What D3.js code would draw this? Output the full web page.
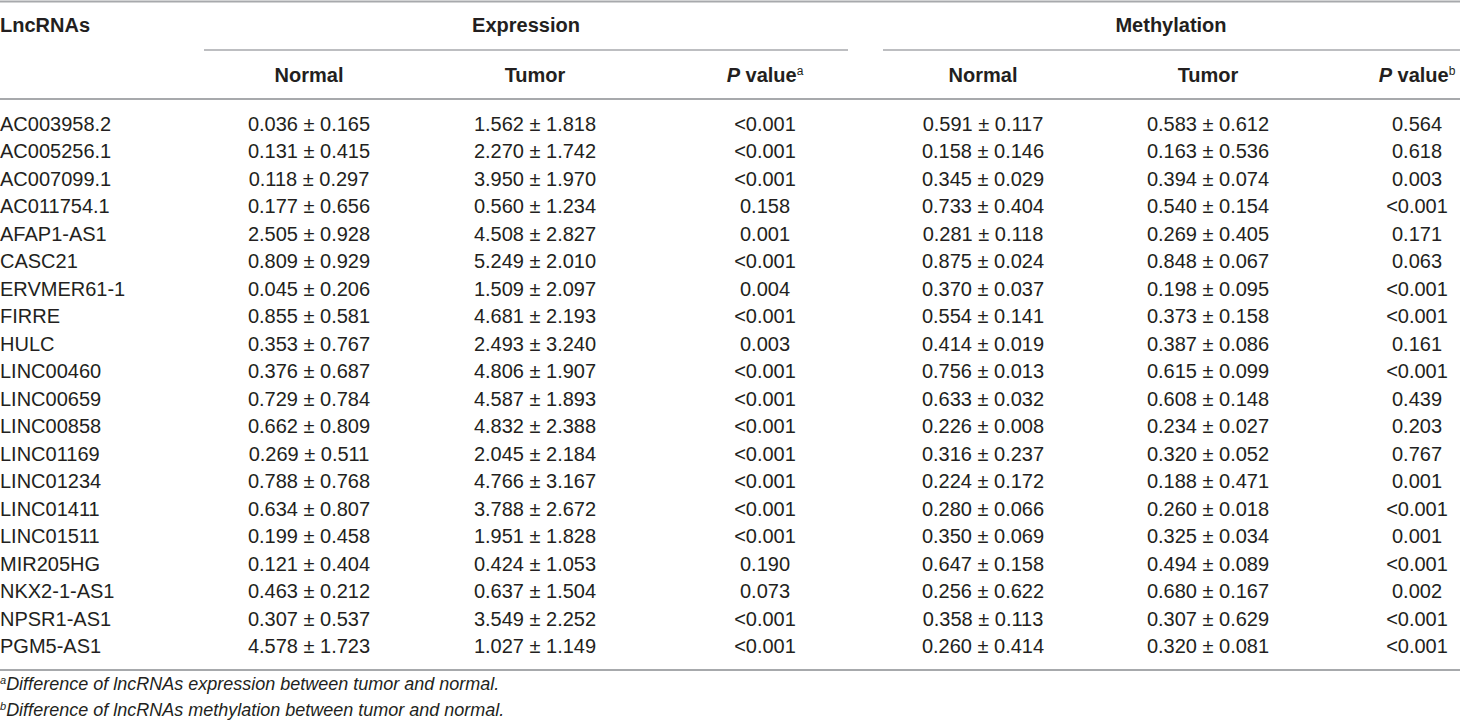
<!DOCTYPE html>
<html>
<head>
<meta charset="utf-8">
<script src="https://d3js.org/d3.v7.min.js"></script>
<style>
  body { margin: 0; background: #fff; }
  text { font-family: "Liberation Sans", Arial, sans-serif; fill: #231f20; }
</style>
</head>
<body>
<div id="chart"></div>
<script>
// table contents
var lncRNAs = ["AC003958.2","AC005256.1","AC007099.1","AC011754.1","AFAP1-AS1","CASC21","ERVMER61-1","FIRRE","HULC","LINC00460","LINC00659","LINC00858","LINC01169","LINC01234","LINC01411","LINC01511","MIR205HG","NKX2-1-AS1","NPSR1-AS1","PGM5-AS1"];
var exprNormal = ["0.036 ± 0.165","0.131 ± 0.415","0.118 ± 0.297","0.177 ± 0.656","2.505 ± 0.928","0.809 ± 0.929","0.045 ± 0.206","0.855 ± 0.581","0.353 ± 0.767","0.376 ± 0.687","0.729 ± 0.784","0.662 ± 0.809","0.269 ± 0.511","0.788 ± 0.768","0.634 ± 0.807","0.199 ± 0.458","0.121 ± 0.404","0.463 ± 0.212","0.307 ± 0.537","4.578 ± 1.723"];
var exprTumor = ["1.562 ± 1.818","2.270 ± 1.742","3.950 ± 1.970","0.560 ± 1.234","4.508 ± 2.827","5.249 ± 2.010","1.509 ± 2.097","4.681 ± 2.193","2.493 ± 3.240","4.806 ± 1.907","4.587 ± 1.893","4.832 ± 2.388","2.045 ± 2.184","4.766 ± 3.167","3.788 ± 2.672","1.951 ± 1.828","0.424 ± 1.053","0.637 ± 1.504","3.549 ± 2.252","1.027 ± 1.149"];
var exprP = ["<0.001","<0.001","<0.001","0.158","0.001","<0.001","0.004","<0.001","0.003","<0.001","<0.001","<0.001","<0.001","<0.001","<0.001","<0.001","0.190","0.073","<0.001","<0.001"];
var methNormal = ["0.591 ± 0.117","0.158 ± 0.146","0.345 ± 0.029","0.733 ± 0.404","0.281 ± 0.118","0.875 ± 0.024","0.370 ± 0.037","0.554 ± 0.141","0.414 ± 0.019","0.756 ± 0.013","0.633 ± 0.032","0.226 ± 0.008","0.316 ± 0.237","0.224 ± 0.172","0.280 ± 0.066","0.350 ± 0.069","0.647 ± 0.158","0.256 ± 0.622","0.358 ± 0.113","0.260 ± 0.414"];
var methTumor = ["0.583 ± 0.612","0.163 ± 0.536","0.394 ± 0.074","0.540 ± 0.154","0.269 ± 0.405","0.848 ± 0.067","0.198 ± 0.095","0.373 ± 0.158","0.387 ± 0.086","0.615 ± 0.099","0.608 ± 0.148","0.234 ± 0.027","0.320 ± 0.052","0.188 ± 0.471","0.260 ± 0.018","0.325 ± 0.034","0.494 ± 0.089","0.680 ± 0.167","0.307 ± 0.629","0.320 ± 0.081"];
var methP = ["0.564","0.618","0.003","<0.001","0.171","0.063","<0.001","<0.001","0.161","<0.001","0.439","0.203","0.767","0.001","<0.001","0.001","<0.001","0.002","<0.001","<0.001"];

var groups = ["Expression", "Methylation"];
var subHeads = ["Normal", "Tumor", "P value", "Normal", "Tumor", "P value"];
var subMarks = ["", "", "a", "", "", "b"];
var footnotes = [
  ["a", "Difference of lncRNAs expression between tumor and normal."],
  ["b", "Difference of lncRNAs methylation between tumor and normal."]
];

var W = 1460, H = 726, fs = 20;
var columns = [exprNormal, exprTumor, exprP, methNormal, methTumor, methP];

var svg = d3.select("#chart").append("svg")
    .attr("width", W).attr("height", H);

// column centres and row positions
var x = d3.scaleOrdinal().domain(d3.range(6)).range([309, 535, 765, 983, 1208, 1417]);
var y = d3.scalePoint().domain(lncRNAs).range([124, 646]);
var gx = d3.scaleOrdinal().domain(groups).range([526, 1171]);
var gspan = d3.scaleOrdinal().domain(groups).range([[204, 848], [883, 1460]]);

// rules
function rule(y0, w) {
  svg.append("line").attr("x1", 0).attr("x2", W).attr("y1", y0).attr("y2", y0)
     .attr("stroke", "#a7a9ac").attr("stroke-width", w);
}
rule(1.5, 2);
rule(99, 2);
rule(670, 2);

// group headers
svg.append("text").attr("x", 0).attr("y", 25).attr("dy", "0.35em")
   .attr("font-size", fs).attr("font-weight", "bold").text("LncRNAs");

svg.selectAll("text.group").data(groups).enter().append("text")
   .attr("class", "group")
   .attr("x", function(d) { return gx(d); }).attr("y", 25).attr("dy", "0.35em")
   .attr("text-anchor", "middle").attr("font-size", fs).attr("font-weight", "bold")
   .text(function(d) { return d; });

svg.selectAll("line.span").data(groups).enter().append("line")
   .attr("class", "span")
   .attr("x1", function(d) { return gspan(d)[0]; })
   .attr("x2", function(d) { return gspan(d)[1]; })
   .attr("y1", 50).attr("y2", 50)
   .attr("stroke", "#a7a9ac").attr("stroke-width", 1.3);

// sub headers
var sh = svg.selectAll("text.sub").data(subHeads).enter().append("text")
   .attr("class", "sub")
   .attr("x", function(d, i) { return x(i); }).attr("y", 75).attr("dy", "0.35em")
   .attr("text-anchor", "middle").attr("font-size", fs).attr("font-weight", "bold");
sh.each(function(d, i) {
  var t = d3.select(this);
  if (d === "P value") {
    t.append("tspan").attr("font-style", "italic").text("P");
    t.append("tspan").text(" value");
    t.append("tspan").attr("font-size", 12).attr("font-weight", "normal")
     .attr("dy", "-0.6em").text(subMarks[i]);
  } else {
    t.text(d);
  }
});

// body
svg.selectAll("text.name").data(lncRNAs).enter().append("text")
   .attr("class", "name")
   .attr("x", 0).attr("y", function(d) { return y(d); }).attr("dy", "0.35em")
   .attr("font-size", fs).text(function(d) { return d; });

columns.forEach(function(col, ci) {
  svg.selectAll("text.c" + ci).data(col).enter().append("text")
     .attr("class", "c" + ci)
     .attr("x", x(ci))
     .attr("y", function(d, i) { return y(lncRNAs[i]); }).attr("dy", "0.35em")
     .attr("text-anchor", "middle").attr("font-size", fs)
     .text(function(d) { return d; });
});

// footnotes
var fn = svg.selectAll("text.fn").data(footnotes).enter().append("text")
   .attr("class", "fn")
   .attr("x", 0).attr("y", function(d, i) { return 690 + i * 26; }).attr("dy", "0.35em")
   .attr("font-size", 18).attr("font-style", "italic");
fn.append("tspan").attr("font-size", 11).attr("dy", "-0.55em").text(function(d) { return d[0]; });
fn.append("tspan").attr("dy", "0.35em").text(function(d) { return d[1]; });
</script>
</body>
</html>
